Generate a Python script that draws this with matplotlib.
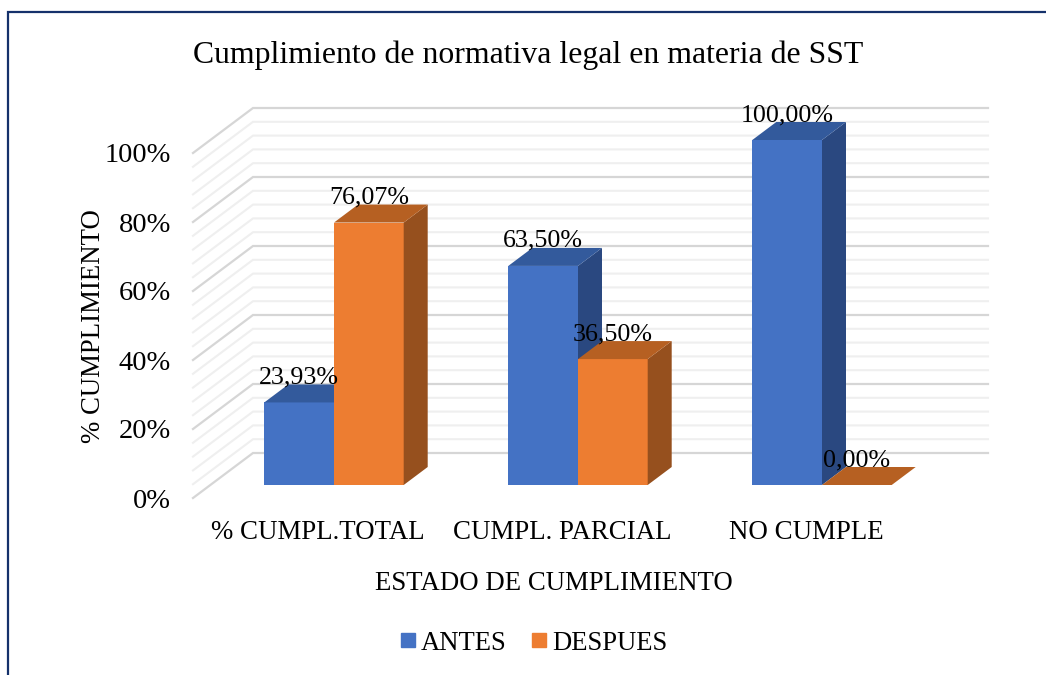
import numpy as np
import matplotlib
matplotlib.use('Agg')
import matplotlib.pyplot as plt
from matplotlib.lines import Line2D

categories = ['% CUMPL.TOTAL', 'CUMPL. PARCIAL', 'NO CUMPLE']
antes = [23.93, 63.50, 100.00]
despues = [76.07, 36.50, 0.00]
antes_labels = ['23,93%', '63,50%', '100,00%']
despues_labels = ['76,07%', '36,50%', '0,00%']
y_ticks = [0, 20, 40, 60, 80, 100]
y_tick_labels = ['0%', '20%', '40%', '60%', '80%', '100%']

W, H = 1046, 675
PX_X = 244.0   # pixels per category
PX_Y = 3.45    # pixels per percent

BLUE = ('#4472C4', '#335A9C', '#2A4880')
ORANGE = ('#ED7D31', '#B66022', '#96501E')

plt.rcParams['font.family'] = ['Liberation Serif', 'DejaVu Serif']

fig = plt.figure(figsize=(W / 100, H / 100), dpi=100)

# axes: y 0..100 is the front edge of the side wall, x 0 is the first label
left, right, bottom, top = 193, 988, 498, 153
ax = fig.add_axes([left / W, 1 - bottom / H, (right - left) / W, (bottom - top) / H])
ax.set_xlim((left - 318) / PX_X, (right - 318) / PX_X)
ax.set_ylim(0, 100)
ax.patch.set_alpha(0)
for s in ax.spines.values():
    s.set_visible(False)

wall_dx = 60 / PX_X
wall_dy = 45 / PX_Y
x_wall = ax.get_xlim()[0]
x_end = ax.get_xlim()[1]
for v in np.arange(0, 101, 4):
    major = v % 20 == 0
    color = '#D6D6D6' if major else '#EFEFEF'
    ax.plot([x_wall, x_wall + wall_dx, x_end], [v, v + wall_dy, v + wall_dy],
            color=color, lw=1.6 if major else 1.5, clip_on=False,
            zorder=1 if major else 0.5, solid_joinstyle='miter')

bar_w = 69.7 / PX_X
bar_dx = 24 / PX_X
bar_dy = 18 / PX_Y
base = (498 - 485) / PX_Y
shift = (334 - 318) / PX_X


def draw_bar(x, value, label, colors, z):
    top_y = base + value
    if value > 0:
        ax.bar(x, value, bar_w, bottom=base, align='edge', color=colors[0],
               zorder=z, lw=0, clip_on=False)
        ax.fill([x + bar_w, x + bar_w + bar_dx, x + bar_w + bar_dx, x + bar_w],
                [base, base + bar_dy, top_y + bar_dy, top_y],
                color=colors[2], lw=0, zorder=z, clip_on=False)
    ax.fill([x, x + bar_dx, x + bar_w + bar_dx, x + bar_w],
            [top_y, top_y + bar_dy, top_y + bar_dy, top_y],
            color=colors[1], lw=0, zorder=z, clip_on=False)
    ax.text(x + bar_w / 2, top_y + bar_dy + 7 / PX_Y, label, ha='center', va='center',
            fontsize=18.7, color='black', zorder=20, clip_on=False)


for i in range(len(categories)):
    draw_bar(i + shift - bar_w, antes[i], antes_labels[i], BLUE, 3 + 2 * i)
    draw_bar(i + shift, despues[i], despues_labels[i], ORANGE, 4 + 2 * i)

ax.set_yticks(y_ticks)
ax.set_yticklabels(y_tick_labels, fontsize=20.5)
ax.set_xticks(range(len(categories)))
ax.set_xticklabels(categories, fontsize=19.4)
ax.tick_params(axis='y', length=0, pad=16)
ax.tick_params(axis='x', length=0, pad=16)

fig.text(528 / W, 1 - 55 / H, 'Cumplimiento de normativa legal en materia de SST',
         ha='center', va='center', fontsize=22.9)
fig.text(93 / W, 1 - 326 / H, '% CUMPLIMIENTO', rotation=90, ha='center', va='center',
         fontsize=19.3)
fig.text(554 / W, 1 - 583 / H, 'ESTADO DE CUMPLIMIENTO', ha='center', va='center',
         fontsize=19.3)

handles = [Line2D([], [], ls='', marker='s', ms=9.5, color=BLUE[0], label='ANTES'),
           Line2D([], [], ls='', marker='s', ms=9.5, color=ORANGE[0], label='DESPUES')]
fig.legend(handles=handles, loc='center', bbox_to_anchor=(533 / W, 1 - 643 / H), ncol=2,
           frameon=False, fontsize=19.2, handlelength=0.7, handletextpad=0.15,
           columnspacing=0.85, borderpad=0)

# chart border: only the left and top edges are in the picture
fig.add_artist(Line2D([8 / W, 8 / W, 1], [0, 1 - 12 / H, 1 - 12 / H], color='#15316B',
                      lw=1.6, transform=fig.transFigure, solid_joinstyle='miter'))

fig.savefig('out.png', dpi=100)
